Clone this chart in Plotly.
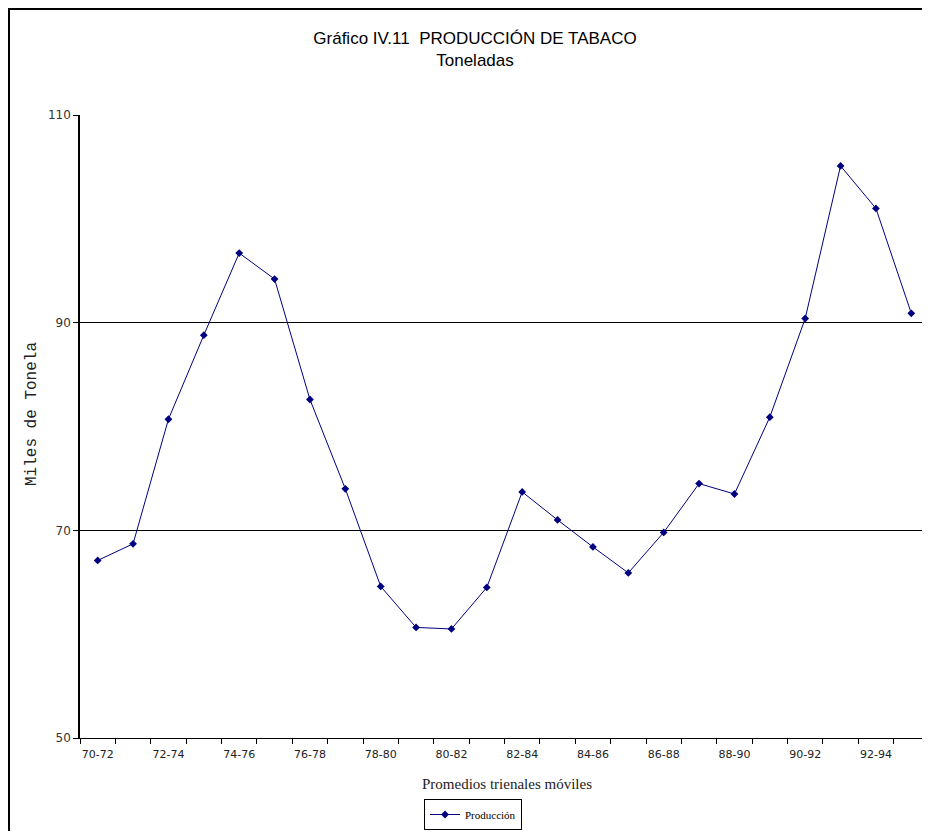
import plotly.graph_objects as go

periodos = [f"{a}-{a + 2}" for a in range(70, 94)]
produccion = [67.1, 68.7, 80.7, 88.8, 96.7, 94.2, 82.6, 74.0, 64.6, 60.65,
              60.5, 64.5, 73.7, 71.0, 68.4, 65.9, 69.8, 74.5, 73.5, 80.9,
              90.4, 105.1, 101.0, 90.9]
etiquetas = [p if i % 2 == 0 else "" for i, p in enumerate(periodos)]
y_ticks = [50, 70, 90, 110]

# la pagina tiene 8 px de margen en el body: se trabaja en coordenadas de pantalla
OFF = 8
W, H = 922, 823
L, R, T = 72, 1, 107
B = H - (738 - OFF)
pw, ph = W - L - R, H - T - B


def px_x(s):
    return (s - OFF - L) / pw


def px_y(s):
    return (H - B - (s - OFF)) / ph


fig = go.Figure()
fig.add_trace(go.Scatter(
    x=periodos, y=produccion, mode="lines+markers", name="Producción",
    line=dict(color="#000080", width=1),
    marker=dict(symbol="diamond", size=6, color="#000080")))

fig.update_layout(
    width=W, height=H, autosize=False,
    margin=dict(l=L, r=R, t=T, b=B, autoexpand=False),
    paper_bgcolor="white", plot_bgcolor="white",
    title=dict(
        text="Gráfico IV.11  PRODUCCIÓN DE TABACO<br>Toneladas",
        x=px_x(475), xref="paper", xanchor="center",
        y=1 - 36 / H, yref="container", yanchor="top",
        font=dict(family="Liberation Sans", size=17, color="black")),
    showlegend=True,
    legend=dict(
        x=px_x(473), xanchor="center", y=px_y(799), yanchor="top",
        orientation="h", bordercolor="black", borderwidth=1,
        bgcolor="white", itemwidth=30,
        font=dict(family="Liberation Serif", size=11, color="black")),
    font=dict(family="Liberation Sans", color="#222"),
)

fig.update_xaxes(
    type="category", range=[-0.5, 23.5], automargin=False,
    tickvals=periodos, ticktext=etiquetas, tickson="boundaries",
    tickangle=0, ticklabelstandoff=6,
    ticks="outside", ticklen=5, tickcolor="black",
    showline=True, linecolor="black", linewidth=1,
    showgrid=False, zeroline=False,
    tickfont=dict(family="DejaVu Sans", size=11, color="#222"))

fig.update_yaxes(
    range=[50, 110], tickvals=y_ticks, automargin=False,
    ticks="outside", ticklen=5, tickcolor="black",
    showline=True, linecolor="black", linewidth=1.5,
    showgrid=True, gridcolor="black", gridwidth=1,
    zeroline=False,
    tickfont=dict(family="DejaVu Sans", size=12, color="#333"))

fig.add_annotation(
    text="Miles de Tonela", textangle=-90, showarrow=False,
    x=px_x(32), y=px_y(414), xref="paper", yref="paper",
    xanchor="center", yanchor="middle",
    font=dict(family="Liberation Mono", size=16, color="#222"))
fig.add_annotation(
    text="Promedios trienales móviles", showarrow=False,
    x=px_x(507), y=px_y(784), xref="paper", yref="paper",
    xanchor="center", yanchor="middle",
    font=dict(family="Liberation Serif", size=15, color="#222"))

# borde derecho del area de trazado
fig.add_shape(type="line", xref="paper", yref="paper",
              x0=1, x1=1, y0=0, y1=1,
              line=dict(color="#808080", width=1.5))
# marco exterior del grafico
fig.add_shape(type="rect", xref="paper", yref="paper",
              x0=px_x(9), x1=px_x(960), y0=px_y(880), y1=px_y(9),
              line=dict(color="black", width=2))

fig.write_html("out.html")
